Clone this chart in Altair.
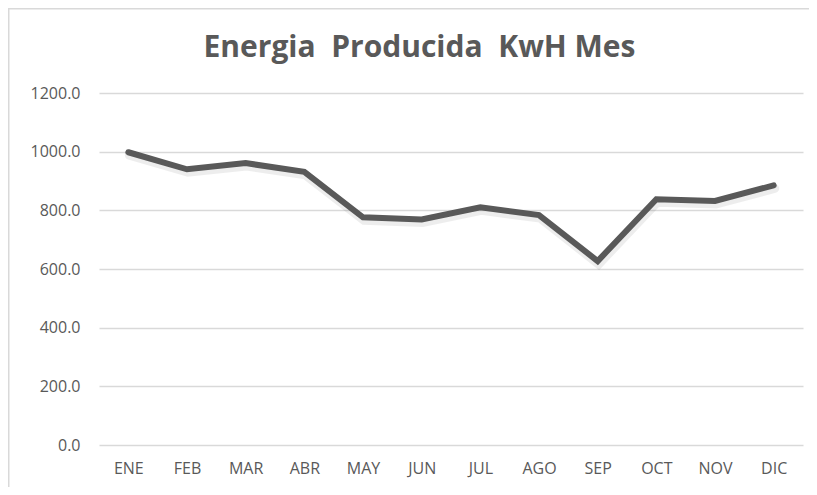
import altair as alt
import pandas as pd

months = ["ENE", "FEB", "MAR", "ABR", "MAY", "JUN", "JUL", "AGO", "SEP", "OCT", "NOV", "DIC"]
energy = [998, 940, 961, 931, 776, 769, 810, 784, 627, 838, 832, 885]
y_ticks = [0, 200, 400, 600, 800, 1000, 1200]
# double spaces kept visible with a non-breaking space
title_text = "Energia \u00a0Producida \u00a0KwH Mes"

df = pd.DataFrame({"mes": months, "kwh": energy})

W, H = 704, 352
PAD = {"left": 91, "top": 85, "right": 6, "bottom": 42}
GRAY = "#595959"

x_enc = alt.X("mes:N", sort=months, scale=alt.Scale(type="point", padding=0.5),
              axis=alt.Axis(title=None, labelAngle=0, grid=False, domain=False, ticks=False,
                            labelPadding=15, labelFontSize=16, labelColor=GRAY,
                            labelFont="Open Sans"))
y_enc = alt.Y("kwh:Q", scale=alt.Scale(domain=[0, 1200], nice=False),
              axis=alt.Axis(title=None, values=y_ticks, format=".1f", grid=True,
                            gridColor="#d9d9d9", gridWidth=1.3, domain=False, ticks=False,
                            labelPadding=19, labelFontSize=16, labelColor=GRAY,
                            labelFont="Open Sans"))

base = alt.Chart(df)

shadow = base.mark_line(color="#000000", opacity=0.07, strokeWidth=9, yOffset=3, xOffset=1,
                        strokeCap="round").encode(x=x_enc, y=y_enc)
line = base.mark_line(color=GRAY, strokeWidth=6, strokeCap="round").encode(x=x_enc, y=y_enc)

tdf = pd.DataFrame({"t": [title_text]})
title = alt.Chart(tdf).mark_text(font="Open Sans", fontSize=30, fontWeight="bold", color=GRAY,
                                 align="center", baseline="alphabetic").encode(
    text="t:N", x=alt.value(419.5 - 99), y=alt.value(57 - 93))

border_left = alt.Chart(tdf).mark_rule(color="#d9d9d9", strokeWidth=1.5).encode(
    x=alt.value(-PAD["left"] + 0.75), y=alt.value(-PAD["top"]), y2=alt.value(H + PAD["bottom"]))
border_top = alt.Chart(tdf).mark_rule(color="#d9d9d9", strokeWidth=1.5).encode(
    x=alt.value(-PAD["left"]), x2=alt.value(W + PAD["right"]), y=alt.value(-PAD["top"] + 0.75))

chart = alt.layer(shadow, line, title, border_left, border_top).properties(
    width=W, height=H, padding=PAD, autosize=alt.AutoSizeParams(type="none"),
    background="white"
).configure_view(stroke=None)

chart.save("out.html", embed_options={"renderer": "svg", "actions": False})
